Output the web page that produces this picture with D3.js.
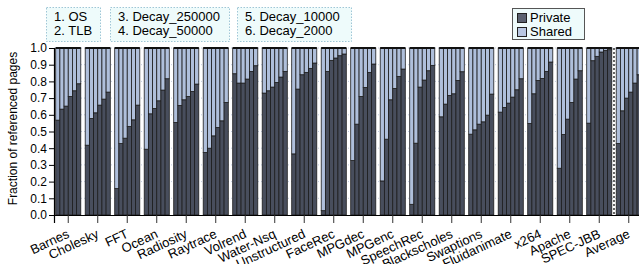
<!DOCTYPE html>
<html>
<head>
<meta charset="utf-8">
<script src="https://cdn.jsdelivr.net/npm/d3@7"></script>
<style>
  html, body { margin: 0; padding: 0; background: #fff; }
  svg { display: block; font-family: "Liberation Sans", Arial, sans-serif; }
</style>
</head>
<body>
<svg id="chart" width="639" height="264"></svg>
<script>
const categories = ["Barnes","Cholesky","FFT","Ocean","Radiosity","Raytrace","Volrend","Water-Nsq","Unstructured","FaceRec","MPGdec","MPGenc","SpeechRec","Blackscholes","Swaptions","Fluidanimate","x264","Apache","SPEC-JBB","Average"];
const configs = ["OS","TLB","Decay_250000","Decay_50000","Decay_10000","Decay_2000"];
const configLabels = ["1. OS","2. TLB","3. Decay_250000","4. Decay_50000","5. Decay_10000","6. Decay_2000"];
const privateOS    = [0.568,0.418,0.158,0.394,0.554,0.374,0.846,0.730,0.366,0.026,0.326,0.204,0.064,0.588,0.484,0.616,0.548,0.280,0.550,0.428];
const privateTLB   = [0.634,0.578,0.428,0.606,0.656,0.400,0.790,0.744,0.754,0.860,0.544,0.454,0.430,0.664,0.510,0.644,0.726,0.482,0.924,0.624];
const privateD250k = [0.652,0.612,0.460,0.638,0.690,0.474,0.790,0.766,0.840,0.926,0.710,0.690,0.766,0.716,0.544,0.670,0.806,0.574,0.950,0.700];
const privateD50k  = [0.710,0.658,0.530,0.684,0.710,0.524,0.814,0.794,0.854,0.940,0.764,0.758,0.808,0.726,0.558,0.706,0.818,0.674,0.976,0.736];
const privateD10k  = [0.744,0.694,0.570,0.748,0.740,0.564,0.860,0.826,0.878,0.954,0.854,0.830,0.864,0.806,0.598,0.750,0.860,0.814,0.986,0.790];
const privateD2k   = [0.786,0.736,0.658,0.816,0.784,0.674,0.894,0.860,0.910,0.964,0.904,0.874,0.896,0.858,0.724,0.816,0.916,0.864,0.990,0.840];
const seriesNames = ["Private","Shared"];
const yTicks = [0,0.1,0.2,0.3,0.4,0.5,0.6,0.7,0.8,0.9,1.0];
const yTitle = "Fraction of referenced pages";

const privateByConfig = [privateOS, privateTLB, privateD250k, privateD50k, privateD10k, privateD2k];
const colors = { Private: "#484e5d", Shared: "#afbfdb" };

const svg = d3.select("#chart");
const mLeft = 54, mTop = 48, mBottom = 215;

const x0 = d3.scaleBand().domain(categories).range([mLeft, 643]).paddingInner(0.15).paddingOuter(0.058);
const x1 = d3.scaleBand().domain(configs).range([0, x0.bandwidth()]);
const y = d3.scaleLinear().domain([0, 1]).range([mBottom, mTop]);

// gridlines
svg.append("g").selectAll("line").data(yTicks.slice(1)).join("line")
  .attr("x1", mLeft).attr("x2", 639)
  .attr("y1", d => y(d)).attr("y2", d => y(d))
  .attr("stroke", "#c3cde0").attr("stroke-width", 1).attr("stroke-dasharray", "1,2");

// bars
const rows = [];
categories.forEach((c, ci) => {
  configs.forEach((k, ki) => {
    const p = privateByConfig[ki][ci];
    rows.push({ c, k, seg: "Private", y0: 0, y1: p });
    rows.push({ c, k, seg: "Shared", y0: p, y1: 1 });
  });
});
svg.append("g").selectAll("rect").data(rows).join("rect")
  .attr("x", d => x0(d.c) + x1(d.k))
  .attr("width", x1.bandwidth())
  .attr("y", d => y(d.y1))
  .attr("height", d => y(d.y0) - y(d.y1))
  .attr("fill", d => colors[d.seg])
  .attr("stroke", "#1c1c1c").attr("stroke-width", 0.8);

// group top lines
svg.append("g").selectAll("line").data(categories).join("line")
  .attr("x1", d => x0(d)).attr("x2", d => x0(d) + x0.bandwidth())
  .attr("y1", y(1)).attr("y2", y(1))
  .attr("stroke", "#111").attr("stroke-width", 2);

// dotted separator before Average
const sepX = (x0("SPEC-JBB") + x0.bandwidth() + x0("Average")) / 2;
svg.append("line").attr("x1", sepX).attr("x2", sepX).attr("y1", y(1)).attr("y2", y(0))
  .attr("stroke", "#000").attr("stroke-width", 1.2).attr("stroke-dasharray", "2,2");

// y axis
const yAxis = svg.append("g").attr("transform", `translate(${mLeft},0)`)
  .call(d3.axisLeft(y).tickValues(yTicks).tickFormat(d3.format(".1f")).tickSize(5).tickPadding(2));
yAxis.select(".domain").attr("stroke", "#000").attr("stroke-width", 1.2);
yAxis.selectAll("text").attr("font-size", 12).attr("fill", "#000").attr("font-family", "Liberation Sans, Arial, sans-serif");

// x axis
const xAxis = svg.append("g").attr("transform", `translate(0,${mBottom})`)
  .call(d3.axisBottom(x0).tickSize(8).tickFormat(""));
xAxis.select(".domain").attr("stroke", "#000").attr("stroke-width", 1.2);
xAxis.selectAll(".tick line").attr("stroke", "#333");
svg.append("g").selectAll("text").data(categories).join("text")
  .attr("transform", d => `translate(${x0(d) + x0.bandwidth() / 2 + 2},${mBottom + 22}) rotate(-25)`)
  .attr("text-anchor", "end")
  .attr("font-size", 13).attr("fill", "#000")
  .text(d => d);

// y title
svg.append("text")
  .attr("transform", `translate(17,${(mTop + mBottom) / 2 - 3}) rotate(-90)`)
  .attr("text-anchor", "middle").attr("font-size", 12).attr("fill", "#000")
  .text(yTitle);

// config legend boxes
const boxes = [
  { x: 46, w: 54, items: configLabels.slice(0, 2) },
  { x: 110, w: 119, items: configLabels.slice(2, 4) },
  { x: 237, w: 114, items: configLabels.slice(4, 6) }
];
const lg = svg.append("g");
boxes.forEach(b => {
  lg.append("rect").attr("x", b.x + 0.5).attr("y", 7.5).attr("width", b.w).attr("height", 34)
    .attr("fill", "#eefbfb").attr("stroke", "#9fc6d6").attr("stroke-dasharray", "1.5,1.5");
  b.items.forEach((t, i) => {
    lg.append("text").attr("x", b.x + 8).attr("y", 20.5 + i * 14)
      .attr("font-size", 13).attr("fill", "#000").text(t);
  });
});

// series legend
const sl = svg.append("g");
sl.append("rect").attr("x", 512.5).attr("y", 8.5).attr("width", 72).attr("height", 31)
  .attr("fill", "#eefbfb").attr("stroke", "#555").attr("stroke-width", 1);
seriesNames.forEach((s, i) => {
  sl.append("rect").attr("x", 517.5).attr("y", 13.5 + i * 14).attr("width", 9).attr("height", 9)
    .attr("fill", s === "Private" ? "#5b6170" : "#b9c8e3").attr("stroke", "#222");
  sl.append("text").attr("x", 530).attr("y", 22 + i * 14)
    .attr("font-size", 13).attr("fill", "#000").text(s);
});
</script>
</body>
</html>
